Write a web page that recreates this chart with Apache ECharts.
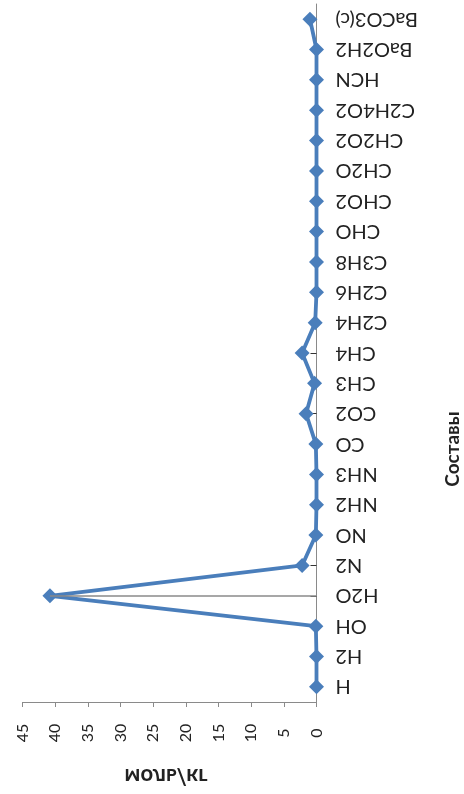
<!DOCTYPE html>
<html>
<head>
<meta charset="utf-8">
<script src="https://cdn.jsdelivr.net/npm/echarts@6/dist/echarts.min.js"></script>
<style>html,body{margin:0;padding:0;background:#fff}#c{width:464px;height:794px}</style>
</head>
<body>
<div id="c"></div>
<script>
const categories = ['H','H2','OH','H2O','N2','NO','NH2','NH3','CO','CO2','CH3','CH4','C2H4','C2H6','C3H8','CHO','CHO2','CH2O','CH2O2','C2H4O2','HCN','BaO2H2','BaCO3(c)'];
const values = [0, 0, 0.1, 40.8, 2.2, 0.1, 0, 0, 0.1, 1.6, 0.3, 2.2, 0.2, 0, 0, 0, 0, 0, 0, 0, 0, 0, 1.0];
const valueTicks = {min: 0, max: 45, interval: 5};
const valueTitle = 'моль/кг';
const categoryTitle = 'Составы';
const highlightCategory = 'H2O';

const FONT = 'Lato, "Open Sans", sans-serif';
const BLUE = '#4a7ebb';
const hlIdx = categories.indexOf(highlightCategory);

const chart = echarts.init(document.getElementById('c'), null, {renderer: 'canvas'});
chart.setOption({
  animation: false,
  grid: {left: 22.5, right: 147.5, top: 4, bottom: 92, containLabel: false},
  xAxis: {
    type: 'value', inverse: true, position: 'bottom',
    min: valueTicks.min, max: valueTicks.max, interval: valueTicks.interval,
    splitLine: {show: false},
    axisLine: {show: true, lineStyle: {color: '#8a8a8a', width: 1}},
    axisTick: {show: true, length: 5, lineStyle: {color: '#8a8a8a'}},
    axisLabel: {rotate: 90, align: 'center', verticalAlign: 'middle', margin: 31,
      fontFamily: FONT, fontSize: 16, color: '#222'}
  },
  yAxis: {
    type: 'category', position: 'right', data: categories, boundaryGap: true,
    axisLine: {show: true, lineStyle: {color: '#8a8a8a', width: 1}},
    axisTick: {show: true, inside: true, alignWithLabel: true, length: 6, lineStyle: {color: '#333'}},
    axisLabel: {rotate: 180, margin: 19, fontFamily: FONT, fontSize: 20, color: '#222'},
    splitLine: {show: false}
  },
  series: [{
    type: 'line', data: values,
    symbol: 'diamond', symbolSize: 15, showSymbol: true,
    itemStyle: {color: BLUE},
    lineStyle: {color: BLUE, width: 3.8},
    z: 1,
    markLine: {
      silent: true, symbol: 'none',
      lineStyle: {color: '#8a8a8a', width: 1.5, type: 'solid'},
      label: {show: false},
      data: [[{coord: [0, highlightCategory]}, {coord: [values[hlIdx], highlightCategory]}]]
    }
  }],
  graphic: [
    {type: 'text', x: 166, y: 776, scaleY: -1,
      style: {text: valueTitle, x: 0, y: 0, align: 'center', verticalAlign: 'middle',
        font: 'bold 22px ' + FONT, fill: '#222'}},
    {type: 'text', x: 453, y: 449, rotation: Math.PI / 2,
      style: {text: categoryTitle, x: 0, y: 0, align: 'center', verticalAlign: 'middle',
        font: 'bold 19px ' + FONT, fill: '#222'}}
  ]
});
</script>
</body>
</html>
